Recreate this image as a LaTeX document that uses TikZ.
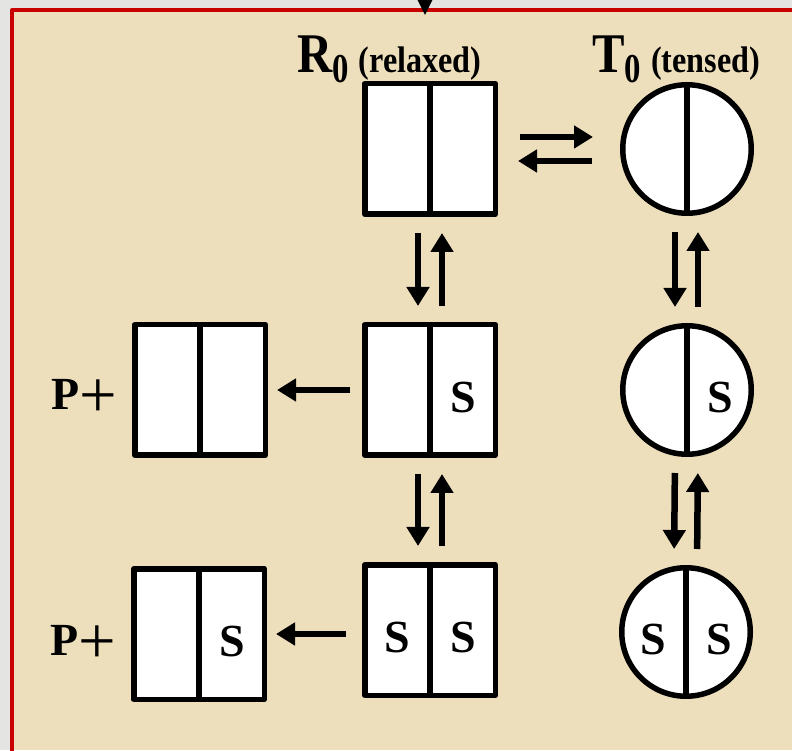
\documentclass[tikz,border=0pt]{standalone}
\usepackage{fontspec}
\setmainfont{Liberation Serif}
\usetikzlibrary{arrows.meta}

\definecolor{parchment}{RGB}{238,223,188}
\definecolor{framered}{RGB}{200,0,0}
\definecolor{outside}{RGB}{228,228,226}

% state name with subscript 0 and a note in brackets
\newcommand{\statelabel}[2]{%
  \scalebox{0.87}[1]{\fontsize{56}{56}\selectfont #1}%
  \raisebox{-10pt}{\scalebox{0.8}[1]{\fontsize{41}{41}\selectfont 0}}%
  \hspace{10pt}\scalebox{0.87}[1]{\fontsize{37}{37}\selectfont(#2)}}
% product with a wide plus sign
\newcommand{\prodplus}{P\raisebox{-8pt}{\scalebox{1.45}{\mdseries+}}}

\begin{document}
\begin{tikzpicture}[x=1pt, y=1pt, line join=round,
    sub/.style={draw, fill=white, line width=5.5pt, minimum size=130.5pt, inner sep=0pt},
    tensed/.style={sub, circle, minimum size=128.5pt},
    lig/.style={font=\fontsize{46}{46}\selectfont\bfseries, inner sep=0pt},
    eq/.style={line width=6.5pt, -{Triangle[length=19pt, width=22pt]},
      shorten <=16pt, shorten >=16pt}]
  \useasboundingbox (0,0) rectangle (792,750);
  \clip (0,0) rectangle (792,750);

  % frame
  \fill[outside] (0,0) rectangle (792,750);
  \fill[parchment] (12,0) rectangle (792,740);
  \draw[framered, line width=4pt] (12,-5) -- (12,740) -- (800,740);
  \coordinate (feed) at (425,790);
  \coordinate (feed-tip) at (425,735);
  \draw[line width=3pt, -{Triangle[length=17pt, width=16pt]}] (feed) -- (feed-tip);

  % subunit pairs
  \node[sub] (r0) at (430,601) {};
  \node[tensed] (t0) at (687,601) {};
  \node[sub] (rs) at (430,360) {};
  \node[sub] (p1) at (200,360) {};
  \node[tensed] (ts) at (687,360) {};
  \node[sub] (ss) at (430,120) {};
  \node[sub] (ps) at (199,116) {};
  \node[tensed] (tss) at (686,118) {};

  \foreach \n in {r0,t0,rs,p1,ts,ss,ps,tss} {
    \draw[line width=5.5pt] (\n.north) -- (\n.south);
  }

  % bound substrate
  \foreach \n/\s in {rs/1, ts/1, ss/-1, ss/1, tss/-1, tss/1, ps/1} {
    \node[lig] (\n-S\s) at ([xshift=\s*33pt, yshift=-7pt]\n.center) {S};
  }

  % labels
  \node[anchor=base west, inner sep=0pt, font=\bfseries] (r0-lbl)
    at ([xshift=-65pt, yshift=8pt]r0.north west) {\statelabel{R}{relaxed}};
  \node[anchor=base west, inner sep=0pt, font=\bfseries] (t0-lbl)
    at ([xshift=-28pt]t0.west |- r0-lbl.base) {\statelabel{T}{tensed}};
  \node[lig, anchor=base east] (p1-lbl) at ([xshift=-15pt, yshift=-20pt]p1.west) {\prodplus};
  \node[lig, anchor=base east] (ps-lbl) at ([xshift=-15pt, yshift=-21pt]ps.west) {\prodplus};

  % equilibria
  \draw[eq, shorten <=22pt, shorten >=27pt] ([yshift=12pt]r0.east) -- ([yshift=12pt]t0.west);
  \draw[eq, shorten <=28pt, shorten >=20pt] ([yshift=-12pt]t0.west) -- ([yshift=-12pt]r0.east);

  \draw[eq] ([xshift=-12pt]r0.south) -- ([xshift=-12pt]rs.north);
  \draw[eq] ([xshift=12pt]rs.north) -- ([xshift=12pt]r0.south);
  \draw[eq] ([xshift=-12pt]rs.south) -- ([xshift=-12pt]ss.north);
  \draw[eq] ([xshift=12pt]ss.north) -- ([xshift=12pt]rs.south);

  \draw[eq] ([xshift=-12pt]t0.south) -- ([xshift=-12pt]ts.north);
  \draw[eq] ([xshift=11pt]ts.north) -- ([xshift=11pt]t0.south);
  \draw[eq] ([xshift=-12pt]ts.south) -- ([xshift=-12pt]tss.north);
  \draw[eq] ([xshift=11pt]tss.north) -- ([xshift=11pt]ts.south);

  % product release
  \draw[eq, shorten <=12pt, shorten >=9pt] (rs.west) -- (p1.east);
  \draw[eq, shorten <=16pt, shorten >=9pt] ([yshift=-4pt]ss.west) -- ([yshift=-4pt]ss.west -| ps.east);
\end{tikzpicture}
\end{document}
